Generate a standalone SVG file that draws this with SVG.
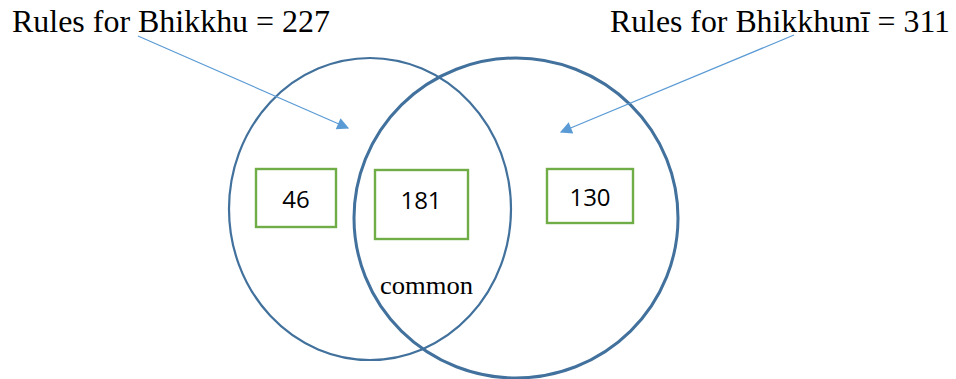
<svg xmlns="http://www.w3.org/2000/svg" width="956" height="379" viewBox="0 0 956 379">
<style>
.ring{fill:none;stroke:#41719C}
.box{fill:#fff;stroke:#70AD47;stroke-width:2.4}
.num{font-family:"Open Sans","Liberation Sans",sans-serif;font-size:24px;fill:#000;text-anchor:middle}
.lbl{font-family:"Liberation Serif",serif;fill:#000}
.arr{stroke:#5B9BD5;stroke-width:1.2;fill:none}
</style>
<defs>
<marker id="ah" viewBox="0 0 10 10" refX="9" refY="5" markerWidth="14" markerHeight="12" markerUnits="userSpaceOnUse" orient="auto">
<path d="M0,0 L10,5 L0,10 z" fill="#5B9BD5"/>
</marker>
</defs>
<g id="bhikkhu-set"><ellipse class="ring" cx="370" cy="209" rx="141" ry="151" stroke-width="2.2"/></g>
<g id="bhikkhuni-set"><ellipse class="ring" cx="516" cy="218" rx="162" ry="160" stroke-width="3"/></g>
<g id="connectors">
<line class="arr" x1="138" y1="36" x2="348" y2="128" marker-end="url(#ah)"/>
<line class="arr" x1="794" y1="35" x2="561" y2="132" marker-end="url(#ah)"/>
</g>
<g id="label-bhikkhu"><text class="lbl" x="12" y="32" font-size="32" textLength="318" lengthAdjust="spacingAndGlyphs">Rules for Bhikkhu = 227</text></g>
<g id="label-bhikkhuni"><text class="lbl" x="610" y="32" font-size="32" textLength="340" lengthAdjust="spacingAndGlyphs">Rules for Bhikkhunī = 311</text></g>
<g id="n46"><rect class="box" x="256" y="169" width="80" height="58"/><text class="num" x="296" y="208">46</text></g>
<g id="n181"><rect class="box" x="375" y="170" width="93" height="69"/><text class="num" x="421" y="209">181</text></g>
<g id="n130"><rect class="box" x="547" y="169" width="86" height="54"/><text class="num" x="590" y="206">130</text></g>
<g id="common"><text class="lbl" x="380" y="294" font-size="26" textLength="93" lengthAdjust="spacingAndGlyphs">common</text></g>
</svg>
